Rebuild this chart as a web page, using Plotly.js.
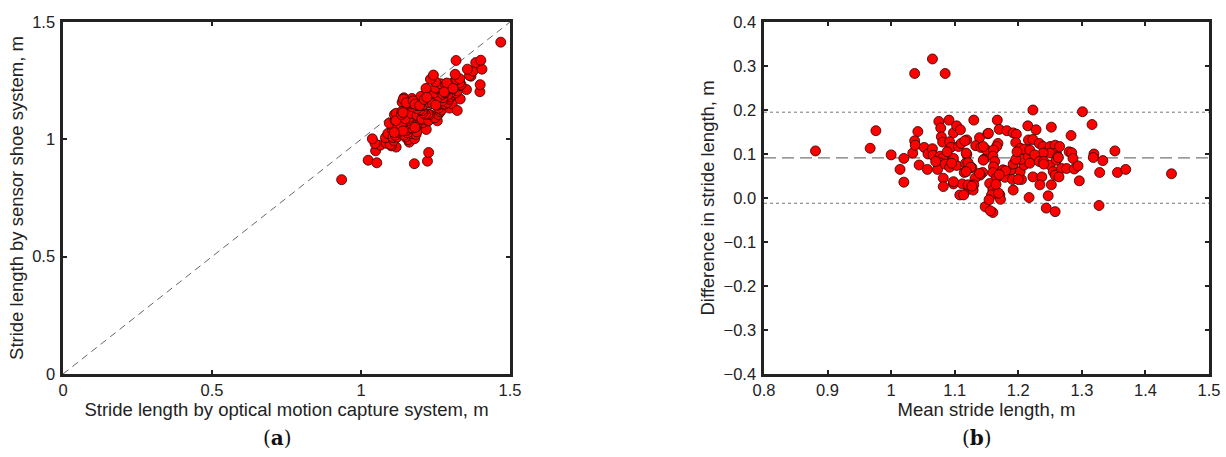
<!DOCTYPE html>
<html><head><meta charset="utf-8">
<script src="https://cdn.plot.ly/plotly-3.0.1.min.js"></script>
<style>html,body{margin:0;padding:0;background:#fff}#chart{width:1226px;height:457px}</style>
</head><body><div id="chart"></div>
<script>
// Panel (a): stride length by optical system (x) vs sensor shoe (y), m
const opticalStride = [0.935,1.024,1.053,1.049,1.065,1.047,1.038,1.179,1.223,1.227,1.085,1.118,1.102,1.098,1.082,1.110,1.090,1.108,1.121,1.115,1.162,1.158,1.149,1.145,1.180,1.172,1.185,1.187,1.219,1.156,1.152,1.165,1.172,1.185,1.169,1.208,1.193,1.199,1.205,1.225,1.125,1.126,1.117,1.106,1.124,1.127,1.140,1.140,1.157,1.159,1.162,1.144,1.173,1.166,1.155,1.145,1.132,1.105,1.095,1.114,1.128,1.112,1.118,1.138,1.190,1.173,1.143,1.135,1.169,1.161,1.160,1.148,1.117,1.136,1.167,1.188,1.181,1.204,1.138,1.141,1.141,1.112,1.227,1.256,1.248,1.259,1.266,1.270,1.297,1.306,1.333,1.354,1.323,1.399,1.400,1.230,1.225,1.216,1.208,1.205,1.197,1.189,1.189,1.172,1.169,1.162,1.175,1.171,1.144,1.259,1.260,1.265,1.282,1.290,1.295,1.298,1.309,1.318,1.311,1.301,1.290,1.208,1.203,1.221,1.201,1.226,1.233,1.247,1.249,1.263,1.273,1.275,1.258,1.247,1.261,1.249,1.275,1.282,1.288,1.285,1.267,1.250,1.284,1.303,1.218,1.233,1.243,1.324,1.333,1.336,1.331,1.309,1.369,1.364,1.376,1.406,1.302,1.310,1.321,1.331,1.288,1.316,1.357,1.385,1.402,1.469,1.319,1.142,1.152,1.175,1.181,1.211,1.197,1.231,1.240,1.251,1.279,1.309,1.212,1.221];
const sensorStride = [0.828,0.911,0.900,0.951,0.975,0.982,1.002,0.896,0.907,0.944,0.983,0.967,0.972,0.978,1.007,0.995,1.025,1.008,1.009,1.018,0.988,0.999,1.010,1.018,1.003,1.024,1.021,1.032,1.042,1.028,1.037,1.048,1.048,1.053,1.070,1.071,1.074,1.084,1.096,1.079,1.030,1.036,1.037,1.041,1.047,1.057,1.054,1.066,1.078,1.085,1.093,1.086,1.115,1.114,1.110,1.115,1.112,1.060,1.069,1.082,1.096,1.105,1.111,1.158,1.102,1.143,1.053,1.056,1.067,1.081,1.090,1.088,1.080,1.106,1.111,1.102,1.051,1.087,1.120,1.114,1.036,1.029,1.080,1.079,1.092,1.106,1.118,1.125,1.133,1.151,1.172,1.212,1.123,1.203,1.233,1.106,1.108,1.107,1.113,1.122,1.126,1.131,1.143,1.139,1.151,1.155,1.168,1.174,1.177,1.133,1.147,1.154,1.150,1.157,1.171,1.181,1.192,1.198,1.209,1.199,1.188,1.144,1.156,1.157,1.183,1.184,1.173,1.172,1.161,1.169,1.164,1.177,1.179,1.199,1.213,1.219,1.192,1.199,1.213,1.225,1.237,1.245,1.232,1.217,1.217,1.256,1.274,1.207,1.228,1.233,1.241,1.215,1.269,1.272,1.291,1.299,1.235,1.243,1.255,1.258,1.240,1.277,1.299,1.327,1.337,1.414,1.336,1.171,1.156,1.164,1.150,1.149,1.144,1.154,1.152,1.146,1.202,1.217,1.170,1.179];

// Panel (b): Bland-Altman, mean stride length vs difference, m
const meanStride = [0.881,0.967,0.976,1.000,1.020,1.014,1.020,1.037,1.065,1.085,1.034,1.042,1.037,1.038,1.044,1.052,1.057,1.058,1.065,1.066,1.075,1.078,1.079,1.081,1.091,1.098,1.103,1.109,1.130,1.092,1.094,1.106,1.110,1.119,1.119,1.139,1.133,1.141,1.150,1.152,1.077,1.081,1.077,1.073,1.085,1.092,1.097,1.103,1.117,1.122,1.127,1.115,1.144,1.140,1.132,1.130,1.122,1.082,1.082,1.098,1.112,1.108,1.114,1.148,1.146,1.158,1.098,1.095,1.118,1.121,1.125,1.118,1.098,1.121,1.139,1.145,1.116,1.145,1.129,1.127,1.088,1.070,1.153,1.167,1.170,1.182,1.192,1.197,1.215,1.228,1.252,1.283,1.223,1.301,1.316,1.168,1.166,1.161,1.160,1.163,1.161,1.160,1.166,1.155,1.160,1.158,1.171,1.172,1.160,1.196,1.203,1.209,1.216,1.223,1.233,1.239,1.250,1.258,1.260,1.250,1.239,1.176,1.179,1.189,1.192,1.205,1.203,1.209,1.205,1.216,1.218,1.226,1.218,1.223,1.237,1.234,1.233,1.240,1.250,1.255,1.252,1.247,1.258,1.260,1.217,1.244,1.258,1.265,1.280,1.284,1.286,1.262,1.319,1.318,1.333,1.352,1.268,1.276,1.288,1.294,1.264,1.296,1.328,1.356,1.369,1.441,1.327,1.156,1.154,1.169,1.165,1.180,1.170,1.192,1.196,1.198,1.240,1.263,1.191,1.200];
const diffStride = [0.107,0.113,0.153,0.098,0.090,0.065,0.036,0.283,0.316,0.283,0.102,0.151,0.130,0.120,0.075,0.115,0.065,0.100,0.112,0.097,0.174,0.159,0.139,0.127,0.177,0.148,0.164,0.155,0.177,0.128,0.115,0.117,0.124,0.132,0.099,0.137,0.119,0.115,0.109,0.146,0.095,0.090,0.080,0.065,0.077,0.070,0.086,0.074,0.079,0.074,0.069,0.058,0.058,0.052,0.045,0.030,0.020,0.045,0.026,0.032,0.032,0.007,0.007,-0.020,0.088,0.030,0.090,0.079,0.102,0.080,0.070,0.060,0.037,0.030,0.056,0.086,0.130,0.117,0.018,0.027,0.105,0.083,0.147,0.177,0.156,0.153,0.148,0.145,0.164,0.155,0.161,0.142,0.200,0.196,0.167,0.124,0.117,0.109,0.095,0.083,0.071,0.058,0.046,0.033,0.018,0.007,0.007,-0.003,-0.033,0.126,0.113,0.111,0.132,0.133,0.124,0.117,0.117,0.120,0.102,0.102,0.102,0.064,0.047,0.064,0.018,0.042,0.060,0.075,0.088,0.094,0.109,0.098,0.079,0.048,0.048,0.030,0.083,0.083,0.075,0.060,0.030,0.005,0.052,0.086,0.001,-0.023,-0.031,0.117,0.105,0.103,0.090,0.094,0.100,0.092,0.085,0.107,0.067,0.067,0.066,0.073,0.048,0.039,0.058,0.058,0.065,0.055,-0.017,-0.029,-0.004,0.011,0.031,0.062,0.053,0.077,0.088,0.105,0.077,0.092,0.042,0.042];

const meanDiff = 0.091;
const upperLoA = 0.195;
const lowerLoA = -0.012;
const identityLine = [0, 1.5];
const baRange = [0.8, 1.5];

const marker = {color: '#ff0000', size: 10, line: {color: '#2a0000', width: 0.8}};
const tickFont = {family: 'Liberation Sans, Arial, sans-serif', size: 16.5, color: '#222'};
const titleFont = {family: 'Liberation Sans, Arial, sans-serif', size: 18.5, color: '#222'};

const traces = [
  {x: identityLine, y: identityLine, mode: 'lines', xaxis: 'x', yaxis: 'y',
   line: {color: '#555', width: 0.9, dash: '7px,5px'}, hoverinfo: 'skip'},
  {x: opticalStride, y: sensorStride, mode: 'markers', type: 'scatter', xaxis: 'x', yaxis: 'y', marker: marker},
  {x: baRange, y: [upperLoA, upperLoA], mode: 'lines', xaxis: 'x2', yaxis: 'y2',
   line: {color: '#777', width: 1, dash: 'dot'}, hoverinfo: 'skip'},
  {x: baRange, y: [lowerLoA, lowerLoA], mode: 'lines', xaxis: 'x2', yaxis: 'y2',
   line: {color: '#777', width: 1, dash: 'dot'}, hoverinfo: 'skip'},
  {x: baRange, y: [meanDiff, meanDiff], mode: 'lines', xaxis: 'x2', yaxis: 'y2',
   line: {color: '#777', width: 1.3, dash: '12px,6px'}, hoverinfo: 'skip'},
  {x: meanStride, y: diffStride, mode: 'markers', type: 'scatter', xaxis: 'x2', yaxis: 'y2', marker: marker}
];

const axisBase = {
  showline: true, linecolor: '#222', linewidth: 2.6, mirror: 'ticks',
  ticks: 'inside', ticklen: 4, tickwidth: 2, tickcolor: '#222',
  showgrid: false, zeroline: false, tickfont: tickFont, automargin: false
};
const yDom = [1 - 374/457, 1 - 22/457];

const layout = {
  width: 1226, height: 457, showlegend: false,
  paper_bgcolor: '#fff', plot_bgcolor: '#fff',
  margin: {l: 0, r: 0, t: 0, b: 0},
  xaxis: Object.assign({}, axisBase, {domain: [63/1226, 510/1226], range: [0, 1.5], tickvals: [0, 0.5, 1, 1.5],
    ticktext: ['0','0.5','1','1.5'], anchor: 'y',
    title: {text: 'Stride length by optical motion capture system, m', font: titleFont, standoff: 3}}),
  yaxis: Object.assign({}, axisBase, {domain: yDom, range: [0, 1.5], tickvals: [0, 0.5, 1, 1.5],
    ticktext: ['0','0.5','1','1.5'], anchor: 'x', ticklabelstandoff: 2,
    title: {text: 'Stride length by sensor shoe system, m', font: titleFont, standoff: 4}}),
  xaxis2: Object.assign({}, axisBase, {domain: [764/1226, 1209/1226], range: baRange, dtick: 0.1, tick0: 0.8, anchor: 'y2',
    title: {text: 'Mean stride length, m', font: titleFont, standoff: 3}}),
  yaxis2: Object.assign({}, axisBase, {domain: yDom, range: [-0.4, 0.4], dtick: 0.1, tick0: 0, tickformat: '.1f', anchor: 'x2',
    ticklabelstandoff: 2,
    title: {text: 'Difference in stride length, m', font: titleFont, standoff: 4}}),
  annotations: [
    {text: '(<b>a</b>)', xref: 'paper', yref: 'paper', x: 277/1226, y: 1 - 438/457, xanchor: 'center', yanchor: 'middle',
     showarrow: false, font: {family: 'DejaVu Serif, Liberation Serif, serif', size: 20, color: '#111'}},
    {text: '(<b>b</b>)', xref: 'paper', yref: 'paper', x: 977/1226, y: 1 - 438/457, xanchor: 'center', yanchor: 'middle',
     showarrow: false, font: {family: 'DejaVu Serif, Liberation Serif, serif', size: 20, color: '#111'}}
  ]
};

Plotly.newPlot('chart', traces, layout, {displayModeBar: false, staticPlot: true});
</script>
</body></html>
